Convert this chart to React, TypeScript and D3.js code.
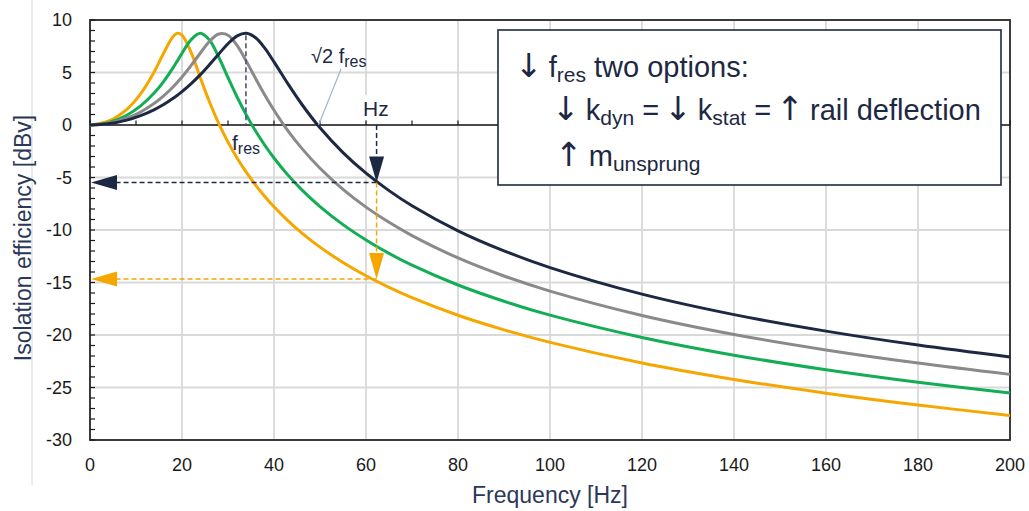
import * as d3 from "d3";

// frequency samples [Hz] and isolation efficiency [dBv]
const freq = [0, 4, 8, 11, 14, 16, 18, 19, 20, 22, 24, 26, 28, 30, 32, 34, 36, 38, 40, 43, 46, 50, 55, 60, 65, 70, 80, 90, 100, 120, 140, 160, 180, 200];
const orangeDb = [0, 0.36, 1.49, 2.96, 5.09, 6.84, 8.39, 8.73, 8.56, 6.89, 4.48, 2.17, 0.13, -1.63, -3.16, -4.52, -5.72, -6.81, -7.79, -9.1, -10.27, -11.63, -13.09, -14.36, -15.46, -16.44, -18.12, -19.51, -20.7, -22.66, -24.23, -25.54, -26.67, -27.66];
const greenDb = [0, 0.23, 0.93, 1.82, 3.07, 4.14, 5.41, 6.11, 6.83, 8.13, 8.74, 8.08, 6.45, 4.51, 2.64, 0.94, -0.58, -1.93, -3.14, -4.75, -6.15, -7.77, -9.49, -10.95, -12.23, -13.35, -15.24, -16.79, -18.11, -20.23, -21.92, -23.31, -24.5, -25.53];
const grayDb = [0, 0.16, 0.64, 1.24, 2.07, 2.77, 3.6, 4.07, 4.57, 5.68, 6.86, 7.98, 8.67, 8.55, 7.56, 6.06, 4.43, 2.86, 1.41, -0.53, -2.2, -4.12, -6.13, -7.82, -9.27, -10.53, -12.66, -14.38, -15.82, -18.14, -19.95, -21.42, -22.67, -23.75];
const navyDb = [0, 0.11, 0.46, 0.89, 1.47, 1.95, 2.52, 2.84, 3.18, 3.94, 4.8, 5.76, 6.77, 7.74, 8.49, 8.73, 8.31, 7.32, 6.01, 3.94, 2, -0.27, -2.63, -4.59, -6.25, -7.69, -10.08, -11.99, -13.58, -16.11, -18.06, -19.63, -20.96, -22.09];

const xTicks = [0, 20, 40, 60, 80, 100, 120, 140, 160, 180, 200];
const yTicks = [10, 5, 0, -5, -10, -15, -20, -25, -30];

// annotation values
const navyPeak = { f: 33.9, db: 8.73 };
const sqrt2Fres = 49.7;
const markFreq = 62.3;
const navyLevel = -5.48;
const orangeLevel = -14.67;

const series = [
  { name: "orange", color: "#f5a700", values: orangeDb },
  { name: "green", color: "#13ad55", values: greenDb },
  { name: "gray", color: "#8a8a8a", values: grayDb },
  { name: "navy", color: "#1d2843", values: navyDb },
];

const NAVY = "#1d2843";
const ORANGE = "#f5a700";
const FONT = "'Liberation Sans', Arial, sans-serif";
const ARROW_FONT = "'DejaVu Sans', sans-serif";

const width = 1029;
const height = 511;
const margin = { left: 90, right: 19, top: 20, bottom: 71 };

const Arrow = ({ ch }: { ch: string }) => (
  <tspan fontFamily={ARROW_FONT} fontSize={33} dx={-3}>
    {ch}
  </tspan>
);

export default function App() {
  const x = d3.scaleLinear().domain([0, 200]).range([margin.left, width - margin.right]);
  const y = d3.scaleLinear().domain([-30, 10]).range([height - margin.bottom, margin.top]);

  const line = d3
    .line<number>()
    .x((_, i) => x(freq[i]))
    .y((d) => y(d))
    .curve(d3.curveCatmullRom.alpha(0.5));

  const minorY = d3.range(-30, 11, 1);
  const minorX = d3.range(0, 201, 10);

  const mx = x(markFreq);
  const nY = y(navyLevel);
  const oY = y(orangeLevel);
  const x0 = x(0);

  const arrowDown = (cx: number, tip: number) =>
    `${cx - 7.5},${tip - 26} ${cx + 7.5},${tip - 26} ${cx},${tip}`;
  const arrowLeft = (tip: number, cy: number) =>
    `${tip},${cy} ${tip + 26},${cy - 7.5} ${tip + 26},${cy + 7.5}`;

  return (
    <div style={{ position: "absolute", left: 0, top: 0 }}>
      <svg width={width} height={height} style={{ display: "block", fontFamily: FONT }}>
        <rect width={width} height={height} fill="#fff" />
        <line x1={32} x2={32} y1={0} y2={485} stroke="#d6d6d6" strokeWidth={1} />

        {/* grid */}
        {xTicks.slice(1, -1).map((t) => (
          <line key={"gx" + t} x1={x(t)} x2={x(t)} y1={y(10)} y2={y(-30)} stroke="#d9d9d9" strokeWidth={1.8} />
        ))}
        {yTicks.slice(1, -1).map((t) => (
          <line key={"gy" + t} x1={x(0)} x2={x(200)} y1={y(t)} y2={y(t)} stroke="#d9d9d9" strokeWidth={1.8} />
        ))}

        {/* frame */}
        <rect x={x(0)} y={y(10)} width={x(200) - x(0)} height={y(-30) - y(10)} fill="none" stroke="#262626" strokeWidth={1.8} />
        <line x1={x(0)} x2={x(200)} y1={y(0)} y2={y(0)} stroke="#1a1a1a" strokeWidth={1.6} />
        {minorY.map((t) => (
          <line key={"ty" + t} x1={x(0)} x2={x(0) + 5} y1={y(t)} y2={y(t)} stroke="#1a1a1a" strokeWidth={1.2} />
        ))}
        {minorX.map((t) => (
          <line key={"tx" + t} x1={x(t)} x2={x(t)} y1={y(0)} y2={y(0) - 4.5} stroke="#1a1a1a" strokeWidth={1.2} />
        ))}

        {/* tick labels */}
        {yTicks.map((t) => (
          <text key={"ly" + t} x={72} y={y(t)} dy="0.36em" textAnchor="end" fontSize={18} fill="#1a1a1a">
            {t}
          </text>
        ))}
        {xTicks.map((t) => (
          <text key={"lx" + t} x={x(t)} y={471} textAnchor="middle" fontSize={18} fill="#1a1a1a">
            {t}
          </text>
        ))}

        {/* axis titles */}
        <text
          transform={`translate(31,${(y(10) + y(-30)) / 2 + 8}) rotate(-90)`}
          textAnchor="middle"
          fontSize={23}
          fill="#2c3858"
        >
          Isolation efficiency [dBv]
        </text>
        <text x={(x(0) + x(200)) / 2} y={503} textAnchor="middle" fontSize={23} fill="#2c3858">
          Frequency [Hz]
        </text>

        {/* curves */}
        {series.map((s) => (
          <path key={s.name} d={line(s.values) || ""} fill="none" stroke={s.color} strokeWidth={3} strokeLinejoin="round" />
        ))}

        {/* f_res marker */}
        <line x1={x(navyPeak.f)} x2={x(navyPeak.f)} y1={y(navyPeak.db) + 2} y2={y(0)} stroke="#4b556e" strokeWidth={1.6} strokeDasharray="5,3" />
        <text x={232} y={150} fontSize={21} fill={NAVY}>
          f<tspan fontSize={16} dy={4}>res</tspan>
        </text>

        {/* sqrt2 f_res label */}
        <line x1={341} y1={69} x2={x(sqrt2Fres)} y2={y(0)} stroke="#a3b5c7" strokeWidth={1.2} />
        <text x={311} y={63} fontSize={20} fill={NAVY}>
          √2 f<tspan fontSize={16} dy={4}>res</tspan>
        </text>

        {/* Hz label */}
        <rect x={360} y={95} width={34} height={25} fill="#fff" />
        <text x={363} y={116} fontSize={21} fill={NAVY}>
          Hz
        </text>

        {/* arrows */}
        <line x1={mx} x2={mx} y1={y(0)} y2={nY - 26} stroke={NAVY} strokeWidth={1.5} strokeDasharray="5,3" />
        <line x1={mx} x2={x0 + 26} y1={nY} y2={nY} stroke={NAVY} strokeWidth={1.5} strokeDasharray="5,3" />
        <polygon points={arrowDown(mx, nY)} fill={NAVY} />
        <polygon points={arrowLeft(x0 + 1, nY)} fill={NAVY} />

        <line x1={mx} x2={mx} y1={nY} y2={oY - 26} stroke={ORANGE} strokeWidth={1.5} strokeDasharray="5,3" />
        <line x1={mx} x2={x0 + 26} y1={oY} y2={oY} stroke={ORANGE} strokeWidth={1.5} strokeDasharray="5,3" />
        <polygon points={arrowDown(mx, oY)} fill={ORANGE} />
        <polygon points={arrowLeft(x0 + 1, oY)} fill={ORANGE} />

        {/* text box */}
        <rect x={498} y={30} width={503} height={155} fill="#fff" stroke={NAVY} strokeWidth={1.6} />
        <g fill={NAVY} fontSize={29}>
          <text x={518} y={77}>
            <Arrow ch="↓" />
            <tspan dx={-2}> f</tspan>
            <tspan fontSize={21} dy={5}>res</tspan>
            <tspan dy={-5}> two options:</tspan>
          </text>
          <text x={555} y={120}>
            <Arrow ch="↓" />
            <tspan dx={-2}> k</tspan>
            <tspan fontSize={21} dy={5}>dyn</tspan>
            <tspan dy={-5}> = </tspan>
            <Arrow ch="↓" />
            <tspan dx={-2}> k</tspan>
            <tspan fontSize={21} dy={5}>stat</tspan>
            <tspan dy={-5}> = </tspan>
            <Arrow ch="↑" />
            <tspan dx={-2}> rail deflection</tspan>
          </text>
          <text x={558} y={166}>
            <Arrow ch="↑" />
            <tspan dx={-2}> m</tspan>
            <tspan fontSize={21} dy={5}>unsprung</tspan>
          </text>
        </g>
      </svg>
    </div>
  );
}
